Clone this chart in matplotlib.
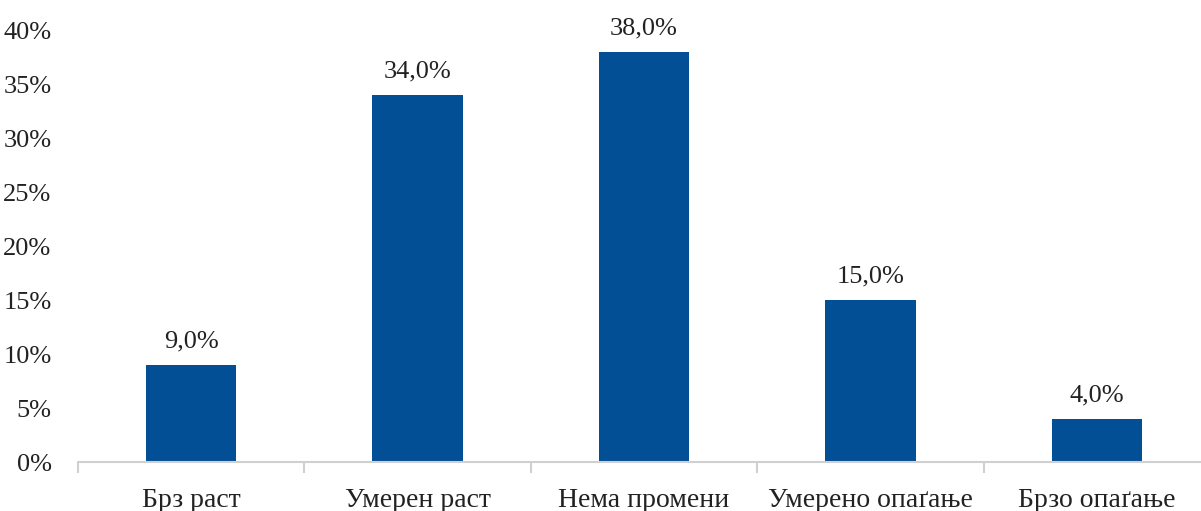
import matplotlib
matplotlib.use("Agg")
import matplotlib.pyplot as plt
import numpy as np

categories = ["Брз раст", "Умерен раст", "Нема промени", "Умерено опаґање", "Брзо опаґање"]
values = [9.0, 34.0, 38.0, 15.0, 4.0]
yticks = [0, 5, 10, 15, 20, 25, 30, 35, 40]

plt.rcParams['font.family'] = ['Liberation Serif', 'DejaVu Serif']

fig = plt.figure(figsize=(12.01, 5.11), dpi=100)
ax = fig.add_axes([78 / 1201, 49 / 511, 1132 / 1201, 432 / 511])

x = np.arange(len(categories))
ax.bar(x, values, width=0.4, color="#034f96", zorder=2)

for xi, v in zip(x, values):
    ax.annotate(f"{v:.1f}%".replace(".", ","), (xi, v), xytext=(0, 9),
                textcoords="offset points", ha="center", va="bottom",
                fontsize=19, color="#222222")

ax.set_xlim(-0.5, len(categories) - 0.5)
ax.set_ylim(0, 40)
ax.set_yticks(yticks)
ax.set_yticklabels([f"{t}%" for t in yticks], fontsize=19, color="#222222")
ax.tick_params(axis="y", length=0, pad=19)

ax.set_xticks(x)
ax.set_xticklabels(categories, fontsize=20, color="#222222")
ax.tick_params(axis="x", length=0, pad=19)
ax.set_xticks(np.arange(-0.5, len(categories)), minor=True)
ax.tick_params(axis="x", which="minor", length=8, color="#d0d0d0", width=1.5)

for s in ["top", "right", "left"]:
    ax.spines[s].set_visible(False)
ax.spines["bottom"].set_color("#d0d0d0")
ax.spines["bottom"].set_linewidth(1.5)

fig.savefig("out.png", dpi=100)
